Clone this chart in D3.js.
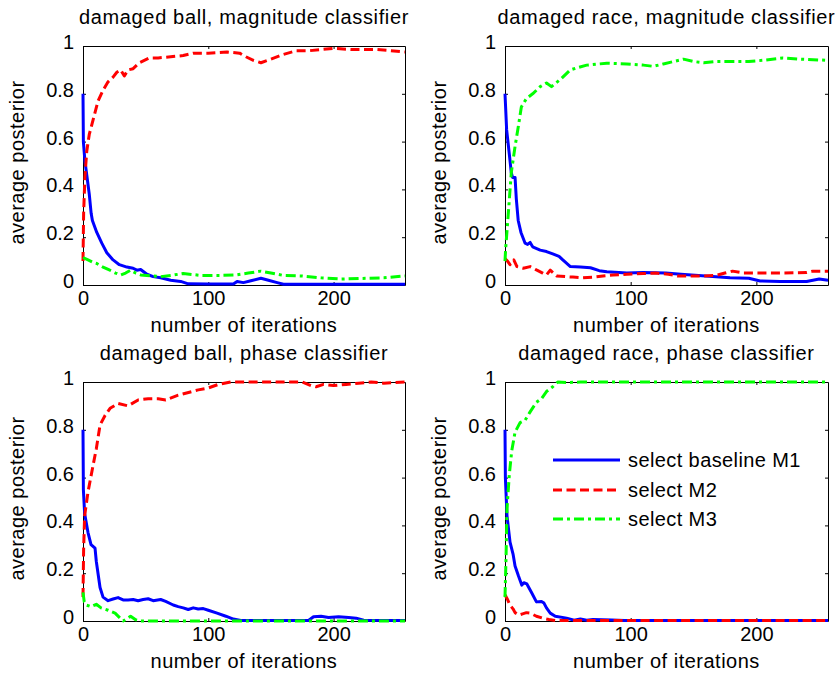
<!DOCTYPE html>
<html><head><meta charset="utf-8">
<script src="https://cdn.jsdelivr.net/npm/d3@7"></script>
<style>
body{margin:0;background:#fff;}
text{font-family:"Liberation Sans",Arial,Helvetica,sans-serif;fill:#000;}
</style></head><body>
<svg id="chart" width="836" height="675"></svg>
<script>
// ---------- data ----------
const xTicks = [0, 100, 200];
const yTicks = [0, 0.2, 0.4, 0.6, 0.8, 1];
const yTickLabels = ["0", "0.2", "0.4", "0.6", "0.8", "1"];
const xLabel = "number of iterations";
const yLabel = "average posterior";
const titles = ["damaged ball, magnitude classifier", "damaged race, magnitude classifier",
                "damaged ball, phase classifier", "damaged race, phase classifier"];
const seriesNames = ["select baseline M1", "select M2", "select M3"];
const iterMax = 257;

// damaged ball, magnitude classifier  ([iteration, average posterior])
const ballMagM1 = [[0,0.8],[0.3,0.6],[1.5,0.52],[3,0.46],[5,0.38],[6.5,0.3],[7.5,0.27],[11,0.22],[15,0.175],[19,0.135],[24,0.105],[29,0.085],[35,0.075],[40,0.07],[43,0.062],[46,0.065],[51,0.045],[56,0.035],[62,0.03],[70,0.02],[78,0.015],[84,0.005],[100,0.004],[120,0.004],[123,0.015],[128,0.01],[134,0.018],[142,0.028],[148,0.02],[155,0.01],[160,0.003],[257,0.003]];
const ballMagM2 = [[0,0.1],[0.5,0.3],[1.5,0.45],[3,0.56],[5,0.63],[8,0.69],[12,0.77],[16,0.815],[20,0.85],[24,0.87],[27,0.89],[30,0.9],[33,0.875],[36,0.9],[40,0.905],[45,0.93],[53,0.95],[60,0.95],[70,0.955],[80,0.96],[88,0.97],[100,0.97],[115,0.975],[125,0.97],[130,0.955],[136,0.94],[142,0.93],[150,0.945],[160,0.965],[170,0.98],[180,0.98],[190,0.985],[200,0.99],[215,0.985],[235,0.985],[257,0.975]];
const ballMagM3 = [[0,0.115],[4,0.105],[8,0.095],[11,0.09],[16,0.075],[21,0.063],[26,0.05],[30,0.042],[34,0.05],[38,0.062],[42,0.05],[46,0.042],[55,0.038],[62,0.035],[70,0.04],[80,0.048],[94,0.04],[110,0.04],[122,0.042],[132,0.05],[142,0.058],[150,0.05],[160,0.04],[174,0.038],[190,0.03],[206,0.025],[220,0.027],[240,0.03],[257,0.038]];

// damaged race, magnitude classifier
const raceMagM1 = [[0,0.8],[1.3,0.65],[4,0.52],[5,0.47],[6,0.45],[8,0.45],[9,0.36],[10.5,0.27],[12.7,0.22],[16,0.175],[18,0.17],[20,0.178],[22,0.16],[28,0.146],[33,0.14],[38,0.13],[43,0.12],[46,0.105],[52,0.077],[60,0.075],[68,0.072],[75,0.06],[81,0.055],[97,0.05],[110,0.052],[128,0.05],[140,0.045],[154,0.04],[168,0.035],[179,0.03],[194,0.028],[203,0.017],[219,0.015],[240,0.015],[250,0.025],[257,0.02]];
const raceMagM2 = [[0,0.11],[2,0.1],[4,0.085],[7,0.105],[9.5,0.077],[14.5,0.07],[20,0.077],[25,0.063],[30,0.05],[33,0.042],[36,0.062],[41,0.038],[48,0.035],[54,0.033],[62,0.03],[70,0.033],[78,0.038],[86,0.042],[97,0.045],[110,0.048],[120,0.05],[130,0.045],[137,0.038],[158,0.038],[168,0.04],[175,0.05],[181,0.058],[190,0.05],[220,0.05],[240,0.052],[245,0.058],[257,0.058]];
const raceMagM3 = [[0,0.1],[0.5,0.15],[2.5,0.29],[5,0.47],[8,0.58],[10.5,0.66],[13,0.745],[17,0.78],[22,0.8],[28,0.83],[33,0.845],[37,0.83],[44,0.86],[52,0.9],[58,0.91],[65,0.92],[81,0.928],[97,0.925],[110,0.92],[118,0.915],[126,0.925],[134,0.935],[142,0.945],[150,0.935],[158,0.93],[168,0.935],[180,0.935],[194,0.935],[205,0.94],[221,0.95],[235,0.945],[257,0.94]];

// damaged ball, phase classifier
const ballPhaseM1 = [[0,0.8],[0.3,0.55],[1.3,0.45],[4,0.37],[6.4,0.32],[9.6,0.305],[10.6,0.25],[13.6,0.14],[16,0.1],[20,0.085],[24,0.092],[28,0.098],[32,0.088],[36,0.088],[40,0.09],[44,0.085],[48,0.09],[52,0.093],[56,0.085],[62,0.09],[66,0.082],[72,0.067],[76,0.06],[80,0.055],[84,0.048],[88,0.055],[92,0.05],[96,0.052],[100,0.045],[107,0.033],[114,0.02],[120,0.008],[126,0.002],[180,0.002],[184,0.018],[190,0.02],[196,0.015],[204,0.018],[212,0.015],[218,0.012],[224,0.003],[257,0.002]];
const ballPhaseM2 = [[0,0.1],[0.5,0.3],[1.3,0.44],[4,0.54],[8,0.65],[10.6,0.72],[13.6,0.82],[17.6,0.86],[21.6,0.89],[28,0.91],[36,0.9],[44,0.925],[52,0.93],[60,0.93],[66,0.925],[76,0.945],[92,0.967],[100,0.975],[108,0.99],[118,1.0],[150,1.0],[175,1.0],[182,0.985],[186,0.98],[192,0.99],[200,0.985],[210,0.99],[220,0.995],[230,1.0],[240,0.995],[257,1.0]];
const ballPhaseM3 = [[0,0.12],[1,0.08],[2.4,0.067],[6.4,0.06],[10.6,0.07],[14.4,0.055],[20,0.045],[25.6,0.033],[29.6,0.012],[32,0.0],[35,0.01],[38,0.02],[42,0.005],[46,0.0],[257,0.0]];

// damaged race, phase classifier
const racePhaseM1 = [[0,0.8],[0.3,0.6],[1.6,0.44],[4,0.33],[6.4,0.28],[8,0.23],[10.6,0.19],[13.4,0.15],[15,0.16],[17.4,0.155],[21,0.12],[25,0.08],[29,0.082],[31,0.075],[33,0.055],[36,0.033],[40,0.02],[49,0.012],[55,0.003],[60,0.008],[65,0.003],[70,0.006],[85,0.004],[95,0.002],[257,0.002]];
const racePhaseM2 = [[0,0.11],[2,0.09],[4,0.067],[6.5,0.05],[8,0.035],[11,0.025],[14,0.03],[17,0.035],[20,0.033],[25,0.02],[30,0.012],[35,0.006],[40,0.002],[257,0.002]];
const racePhaseM3 = [[0,0.1],[0.8,0.26],[1.6,0.47],[3.4,0.61],[5.3,0.71],[8,0.79],[12,0.83],[16,0.84],[20,0.875],[25,0.915],[29,0.93],[33,0.96],[38,0.98],[42,1.0],[50,0.998],[60,1.0],[257,1.0]];

// ---------- styles / layout ----------
const colors = ["#0000ff", "#ff0000", "#00ff00"];
const dashes = [null, "9,4.5", "10,4,3,4"];
const lineW = 3;
const FS = 20;

const panels = [
  {x0: 83,  x1: 405, y0: 46,  y1: 285, title: titles[0], series: [ballMagM1, ballMagM2, ballMagM3], legend: false},
  {x0: 505, x1: 828, y0: 46,  y1: 285, title: titles[1], series: [raceMagM1, raceMagM2, raceMagM3], legend: false},
  {x0: 83,  x1: 405, y0: 382, y1: 621, title: titles[2], series: [ballPhaseM1, ballPhaseM2, ballPhaseM3], legend: false},
  {x0: 505, x1: 828, y0: 382, y1: 621, title: titles[3], series: [racePhaseM1, racePhaseM2, racePhaseM3], legend: true}
];

const svg = d3.select("#chart");
svg.append("rect").attr("width", 836).attr("height", 675).attr("fill", "#fff");

panels.forEach(p => {
  const x = d3.scaleLinear().domain([0, iterMax]).range([p.x0, p.x1]);
  const y = d3.scaleLinear().domain([0, 1]).range([p.y1, p.y0]);
  const g = svg.append("g");

  const styleAxis = sel => {
    sel.select(".domain").attr("stroke", "#000").attr("stroke-width", 1);
    sel.selectAll(".tick line").attr("stroke", "#000").attr("stroke-width", 1);
    sel.selectAll("text").attr("font-size", FS).attr("font-family", '"Liberation Sans",Arial,sans-serif').attr("fill", "#000");
  };

  // left axis
  g.append("g").attr("transform", `translate(${p.x0},0)`)
    .call(d3.axisLeft(y).tickValues(yTicks).tickSizeInner(-3).tickSizeOuter(0).tickPadding(9)
      .tickFormat((d, i) => yTickLabels[i]))
    .call(styleAxis)
    .call(s => s.selectAll(".tick text").attr("y", -4));
  // bottom axis
  g.append("g").attr("transform", `translate(0,${p.y1})`)
    .call(d3.axisBottom(x).tickValues(xTicks).tickSizeInner(-3).tickSizeOuter(0).tickPadding(6)
      .tickFormat(d3.format("d")))
    .call(styleAxis);
  // right axis (ticks only)
  g.append("g").attr("transform", `translate(${p.x1},0)`)
    .call(d3.axisRight(y).tickValues(yTicks).tickSizeInner(-3).tickSizeOuter(0).tickFormat(""))
    .call(styleAxis);
  // top axis (ticks only)
  g.append("g").attr("transform", `translate(0,${p.y0})`)
    .call(d3.axisTop(x).tickValues(xTicks).tickSizeInner(-3).tickSizeOuter(0).tickFormat(""))
    .call(styleAxis);

  // title
  g.append("text").attr("x", (p.x0 + p.x1) / 2).attr("y", p.y0 - 22)
    .attr("text-anchor", "middle").attr("font-size", FS).attr("letter-spacing", "0.65px").text(p.title);
  // x label
  g.append("text").attr("x", (p.x0 + p.x1) / 2).attr("y", p.y1 + 47)
    .attr("text-anchor", "middle").attr("font-size", FS).attr("letter-spacing", "0.5px").text(xLabel);
  // y label
  const ylx = p.x0 - 59, yly = (p.y0 + p.y1) / 2 - 3;
  g.append("text").attr("transform", `translate(${ylx},${yly}) rotate(-90)`)
    .attr("text-anchor", "middle").attr("font-size", FS).attr("letter-spacing", "0.5px").text(yLabel);

  // lines
  const line = d3.line().x(d => x(d[0])).y(d => y(d[1]));
  p.series.forEach((s, i) => {
    g.append("path").datum(s).attr("d", line)
      .attr("fill", "none").attr("stroke", colors[i]).attr("stroke-width", lineW)
      .attr("stroke-linejoin", "round")
      .attr("stroke-dasharray", dashes[i]);
  });

  if (p.legend) {
    const lg = g.append("g");
    const rowY = [460, 490, 519];
    seriesNames.forEach((name, i) => {
      lg.append("line").attr("x1", 553).attr("x2", 620).attr("y1", rowY[i]).attr("y2", rowY[i])
        .attr("stroke", colors[i]).attr("stroke-width", lineW).attr("stroke-dasharray", dashes[i]);
      lg.append("text").attr("x", 628).attr("y", rowY[i] + 7).attr("font-size", FS)
        .attr("letter-spacing", "0.4px").text(name);
    });
  }
});
</script>
</body></html>
